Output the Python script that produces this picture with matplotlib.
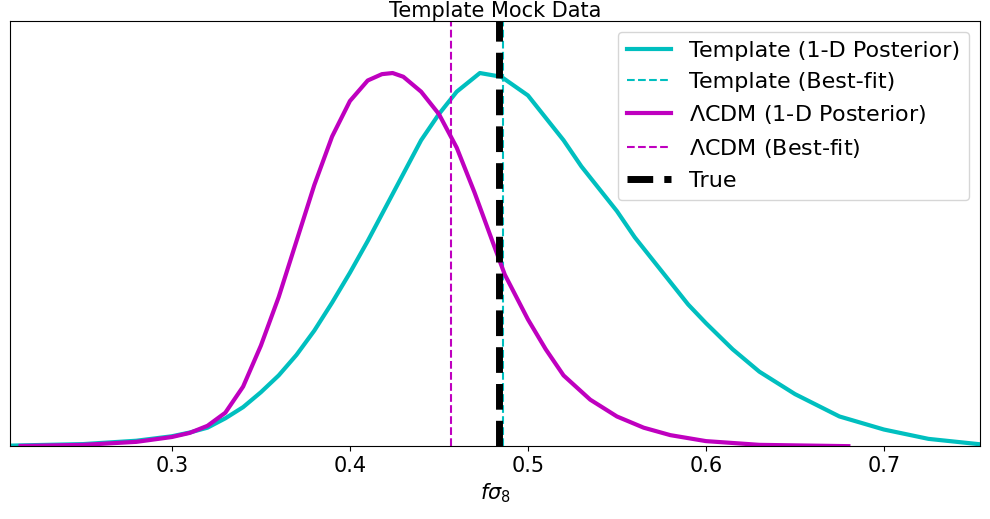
import matplotlib
matplotlib.use("Agg")
import matplotlib.pyplot as plt

# values (peak-normalised heights)
tmpl_x = [0.21, 0.25, 0.28, 0.30, 0.31, 0.32, 0.33, 0.34, 0.35, 0.36, 0.37, 0.38, 0.39, 0.40,
          0.41, 0.42, 0.43, 0.44, 0.45, 0.46, 0.473, 0.485, 0.50, 0.51, 0.52, 0.53, 0.54,
          0.55, 0.56, 0.575, 0.59, 0.60, 0.615, 0.63, 0.65, 0.675, 0.70, 0.725, 0.757]
tmpl_y = [0.002, 0.006, 0.015, 0.027, 0.037, 0.05, 0.075, 0.105, 0.145, 0.19, 0.245, 0.31,
          0.385, 0.465, 0.55, 0.64, 0.73, 0.82, 0.89, 0.95, 1.0, 0.99, 0.94, 0.88, 0.82,
          0.75, 0.69, 0.63, 0.56, 0.47, 0.38, 0.33, 0.26, 0.20, 0.14, 0.08, 0.045, 0.02, 0.004]
lcdm_x = [0.215, 0.25, 0.28, 0.30, 0.31, 0.32, 0.33, 0.34, 0.35, 0.36, 0.37, 0.38, 0.39,
          0.40, 0.41, 0.418, 0.424, 0.43, 0.44, 0.45, 0.46, 0.47, 0.48, 0.487, 0.50, 0.51,
          0.52, 0.535, 0.55, 0.565, 0.58, 0.60, 0.63, 0.68]
lcdm_y = [0.001, 0.004, 0.012, 0.025, 0.036, 0.055, 0.09, 0.16, 0.27, 0.40, 0.55, 0.70,
          0.83, 0.925, 0.98, 0.997, 1.0, 0.99, 0.95, 0.89, 0.80, 0.68, 0.55, 0.46, 0.34,
          0.26, 0.19, 0.125, 0.08, 0.05, 0.03, 0.014, 0.004, 0.0005]
tmpl_best = 0.4860
lcdm_best = 0.4567
true_val = 0.4840

plt.rcParams["font.size"] = 15
fig, ax = plt.subplots(figsize=(9.9, 5.19), dpi=100)
ax.plot(tmpl_x, tmpl_y, color="c", lw=3, label="Template (1-D Posterior)")
ax.axvline(tmpl_best, color="c", ls="--", lw=1.5, label="Template (Best-fit)")
ax.plot(lcdm_x, lcdm_y, color="m", lw=3, label=r"$\Lambda$CDM (1-D Posterior)")
ax.axvline(lcdm_best, color="m", ls="--", lw=1.5, label=r"$\Lambda$CDM (Best-fit)")
ax.axvline(true_val, color="k", ls="--", lw=5, label="True")
ax.set_xlim(0.209, 0.754)
ax.set_ylim(0, 1.14)
ax.set_yticks([])
ax.set_xticks([0.3, 0.4, 0.5, 0.6, 0.7])
ax.set_xlabel(r"$f\sigma_8$")
ax.set_title("Template Mock Data", fontsize=15, pad=3)
ax.legend(loc="upper right", fontsize=16)
fig.subplots_adjust(left=0.01, right=0.99, top=0.96, bottom=0.14)
fig.savefig("out.png", dpi=100)
